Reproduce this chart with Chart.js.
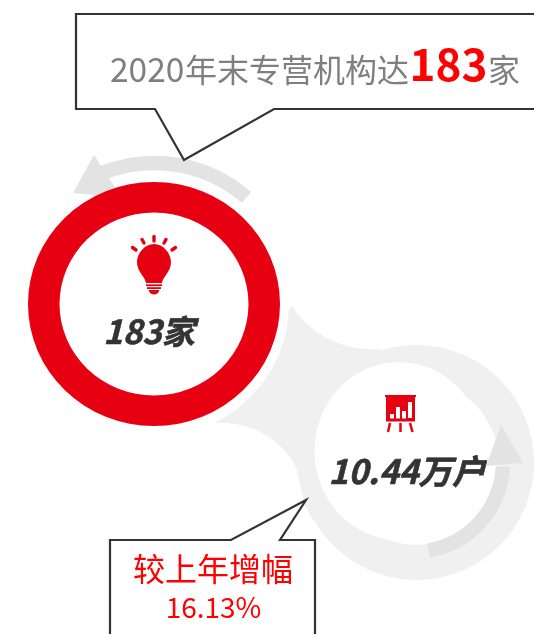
<!DOCTYPE html>
<html><head><meta charset="utf-8">
<style>html,body{margin:0;padding:0;background:#fff;overflow:hidden}
#w{position:relative;width:534px;height:634px}canvas{position:absolute;left:0;top:0}</style>
<script src="https://cdn.jsdelivr.net/npm/chart.js@4"></script></head>
<body><div id="w"><canvas id="c1" width="534" height="634"></canvas><canvas id="c2" width="534" height="634"></canvas></div>
<script>
const institutionLabels = ['专营机构'];
const institutionValues = [183];
const householdLabels = ['户数'];
const householdValues = [10.44];
const headlineParts = ['2020','年末专营机构达','183','家'];
const institutionText = '183家';
const householdText = '10.44万户';
const growthLabel = '较上年增幅';
const growthText = '16.13%';

const CJK = '"Noto Sans CJK SC","Noto Sans",sans-serif';
const GREY='#f0f0f0', ARROW='#e3e3e3', RED='#e60012', LINE='#333333', TXT='#333333';

function poly(ctx,pts,close){ctx.beginPath();pts.forEach((p,i)=>i?ctx.lineTo(p[0],p[1]):ctx.moveTo(p[0],p[1]));if(close)ctx.closePath();}
function shaft(ctx,cx,cy,r,a0,a1,ccw){ctx.save();ctx.strokeStyle=ARROW;ctx.lineWidth=14.5;ctx.beginPath();ctx.arc(cx,cy,r,a0*Math.PI/180,a1*Math.PI/180,ccw);ctx.stroke();ctx.restore();}
function heavyText(c,t,x,y){c.save();c.lineWidth=0.6;c.strokeStyle=c.fillStyle;c.lineJoin='round';c.strokeText(t,x,y);c.fillText(t,x,y);c.restore();}

const blobPlugin={id:'blob',
 beforeDatasetsDraw(ch){const c=ch.ctx;c.save();c.fillStyle=GREY;c.beginPath();c.moveTo(292,305);
  c.bezierCurveTo(305,330,340,352,380,349);c.lineTo(415,462);c.lineTo(315,522);
  c.bezierCurveTo(302,505,302,490,297,470);c.bezierCurveTo(285,440,250,420,213,423);c.closePath();c.fill();c.restore();},
 afterDatasetsDraw(ch){const c=ch.ctx;c.save();c.fillStyle='#fff';
  c.beginPath();c.ellipse(399,451,84.5,89,0,0,Math.PI*2);c.fill();
  c.beginPath();c.ellipse(154,304,135,133,0,0,Math.PI*2);c.fill();
  shaft(c,413,462,90,80,3,true);c.fillStyle=ARROW;poly(c,[[486,466],[501,425],[523,463]],true);c.fill();
  // easel icon
  c.fillStyle=RED;c.fillRect(385,395,31,2);c.fillRect(386,397,29,24.5);
  c.fillStyle='#fff';[[390,414,4,4.5],[396,407,4,11.5],[402,411,4,7.5],[408,402,4,16]].forEach(b=>c.fillRect(b[0],b[1],b[2],b[3]));
  c.strokeStyle=RED;c.lineWidth=2.5;[[390,423,388,432],[400.5,423,400.5,432],[410,423,412.5,432]].forEach(l=>{c.beginPath();c.moveTo(l[0],l[1]);c.lineTo(l[2],l[3]);c.stroke();});
  c.fillStyle=TXT;c.font='italic bold 33.5px '+CJK;c.textAlign='center';c.textBaseline='alphabetic';heavyText(c,householdText,407,484);
  c.restore();}
};
new Chart(document.getElementById('c1'),{type:'doughnut',plugins:[blobPlugin],
 data:{labels:householdLabels,datasets:[{data:householdValues,backgroundColor:[GREY],borderWidth:0}]},
 options:{responsive:false,animation:false,cutout:'70%',layout:{padding:{left:299,right:-1,top:344,bottom:53}},plugins:{legend:{display:false},tooltip:{enabled:false}}}});

const topPlugin={id:'top',
 beforeDatasetsDraw(ch){const c=ch.ctx;
  shaft(c,154,304,141,-49,-112,true);c.save();c.fillStyle=ARROW;poly(c,[[73,193],[94,155],[122,198]],true);c.fill();c.restore();
  // horizontal stretch of the ring, as in the reference
  c.save();c.translate(154,304);c.scale(126/122,1);c.translate(-154,-304);},
 afterDatasetsDraw(ch){const c=ch.ctx;c.restore();c.save();
  // bulb icon
  c.strokeStyle=RED;c.lineWidth=3.4;c.lineCap='round';
  [[132.5,247.5,136,250],[142,239.5,144,243],[154,236.5,154,241],[166,239.5,164,243],[175.5,247.5,172,250]].forEach(l=>{c.beginPath();c.moveTo(l[0],l[1]);c.lineTo(l[2],l[3]);c.stroke();});
  c.fillStyle=RED;c.beginPath();c.moveTo(146,283);c.bezierCurveTo(145,276,137,272,137,262);
  c.bezierCurveTo(137,253,145,244,154,244);c.bezierCurveTo(163,244,171,253,171,262);c.bezierCurveTo(171,272,163,276,162,283);c.closePath();c.fill();
  c.fillRect(146,284.3,16,1.8);c.fillRect(147,287.2,14,1.8);
  c.beginPath();c.moveTo(148.5,290);c.lineTo(159.5,290);c.quadraticCurveTo(158,294.5,154,294.5);c.quadraticCurveTo(150,294.5,148.5,290);c.closePath();c.fill();
  c.fillStyle=TXT;c.font='italic bold 33px '+CJK;c.textAlign='center';heavyText(c,institutionText,149,344);
  // top callout
  c.lineWidth=2.2;c.lineJoin='miter';c.lineCap='butt';c.strokeStyle=LINE;c.fillStyle='#fff';
  poly(c,[[540,14],[76,14],[76,109],[155,109],[184,160],[274,109],[540,109]]);c.fill();c.stroke();
  c.textAlign='left';c.fillStyle='#7f7f7f';
  c.font='33.5px '+CJK;c.fillText(headlineParts[0],110,82);
  c.font='32px '+CJK;c.fillText(headlineParts[1],185,82);
  c.fillStyle='#ff0000';c.font='bold 44px '+CJK;c.fillText(headlineParts[2],409.5,81);
  c.fillStyle='#7f7f7f';c.font='32px '+CJK;c.fillText(headlineParts[3],488,82);
  // bottom callout
  c.strokeStyle=LINE;c.fillStyle='#fff';
  poly(c,[[110,640],[110,540],[231,540],[306,500],[280,540],[315,540],[315,640]]);c.fill();c.stroke();
  c.fillStyle='#ff0000';c.textAlign='center';c.font='32px '+CJK;c.fillText(growthLabel,213,581);
  c.font='28px '+CJK;c.fillText(growthText,213.5,618);
  c.restore();}
};
new Chart(document.getElementById('c2'),{type:'doughnut',plugins:[topPlugin],
 data:{labels:institutionLabels,datasets:[{data:institutionValues,backgroundColor:[RED],borderWidth:0}]},
 options:{responsive:false,animation:false,cutout:'75%',layout:{padding:{left:32,right:258,top:182,bottom:208}},plugins:{legend:{display:false},tooltip:{enabled:false}}}});
</script></body></html>
